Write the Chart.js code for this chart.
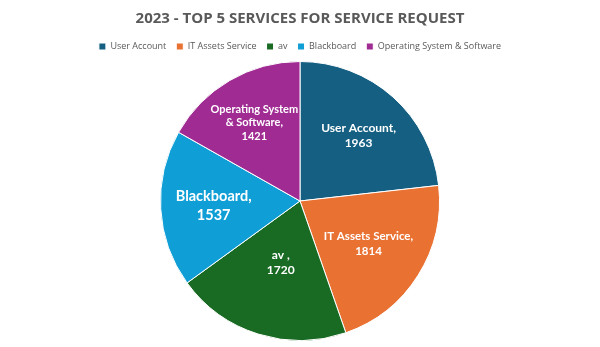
<!DOCTYPE html>
<html>
<head>
<meta charset="utf-8">
<script src="https://cdn.jsdelivr.net/npm/chart.js@4"></script>
<style>
  html, body { margin: 0; padding: 0; background: #fff; }
  #wrap { width: 600px; height: 347px; }
</style>
</head>
<body>
<div id="wrap"><canvas id="chart"></canvas></div>
<script>
// Data
const categories = ['User Account', 'IT Assets Service', 'av', 'Blackboard', 'Operating System & Software'];
const requests   = [1963, 1814, 1720, 1537, 1421];
const colors     = ['#156082', '#e97132', '#196b24', '#0f9ed5', '#a02b93'];

// label text lines inside each slice (as shown in the original)
const sliceLabels = [
  ['User Account,', '1963'],
  ['IT Assets Service,', '1814'],
  ['av ,', '1720'],
  ['Blackboard,', '1537'],
  ['Operating System', '& Software,', '1421']
];

// per-slice label look: radius fraction, font size, line height
const labelStyle = [
  { r: 0.63, size: 12, lh: 15 },
  { r: 0.58, size: 11.5, lh: 15 },
  { r: 0.46, size: 12, lh: 15 },
  { r: 0.62, size: 14.5, lh: 19 },
  { r: 0.65, size: 11, lh: 13.5 }
];

const sliceLabelPlugin = {
  id: 'sliceLabels',
  afterDatasetsDraw(chart) {
    const ctx = chart.ctx;
    const meta = chart.getDatasetMeta(0);
    ctx.save();
    ctx.fillStyle = '#ffffff';
    ctx.textAlign = 'center';
    ctx.textBaseline = 'middle';
    meta.data.forEach((arc, i) => {
      const p = arc.getProps(['x', 'y', 'startAngle', 'endAngle', 'outerRadius']);
      const mid = (p.startAngle + p.endAngle) / 2;
      const st = labelStyle[i];
      const cx = p.x + Math.cos(mid) * p.outerRadius * st.r;
      const cy = p.y + Math.sin(mid) * p.outerRadius * st.r;
      const lines = sliceLabels[i];
      ctx.font = 'bold ' + st.size + 'px Lato, Arial, sans-serif';
      const top = cy - (lines.length - 1) * st.lh / 2;
      lines.forEach((t, k) => ctx.fillText(t, cx, top + k * st.lh));
    });
    ctx.restore();
  }
};

new Chart(document.getElementById('chart'), {
  type: 'pie',
  data: {
    labels: categories,
    datasets: [{
      data: requests,
      backgroundColor: colors,
      borderColor: '#ffffff',
      borderWidth: 1
    }]
  },
  options: {
    responsive: true,
    maintainAspectRatio: false,
    animation: false,
    layout: { padding: { top: 0, bottom: 6 } },
    plugins: {
      title: {
        display: true,
        text: '2023 - TOP 5 SERVICES FOR SERVICE REQUEST',
        color: '#595959',
        font: { family: '"Open Sans", Arial, sans-serif', size: 15, weight: 'bold' },
        padding: { top: 10, bottom: 4 }
      },
      legend: {
        position: 'top',
        labels: {
          color: '#595959',
          font: { family: '"Open Sans", Arial, sans-serif', size: 9 },
          boxWidth: 7,
          boxHeight: 7,
          padding: 10
        }
      },
      tooltip: { enabled: false }
    }
  },
  plugins: [sliceLabelPlugin]
});
</script>
</body>
</html>
